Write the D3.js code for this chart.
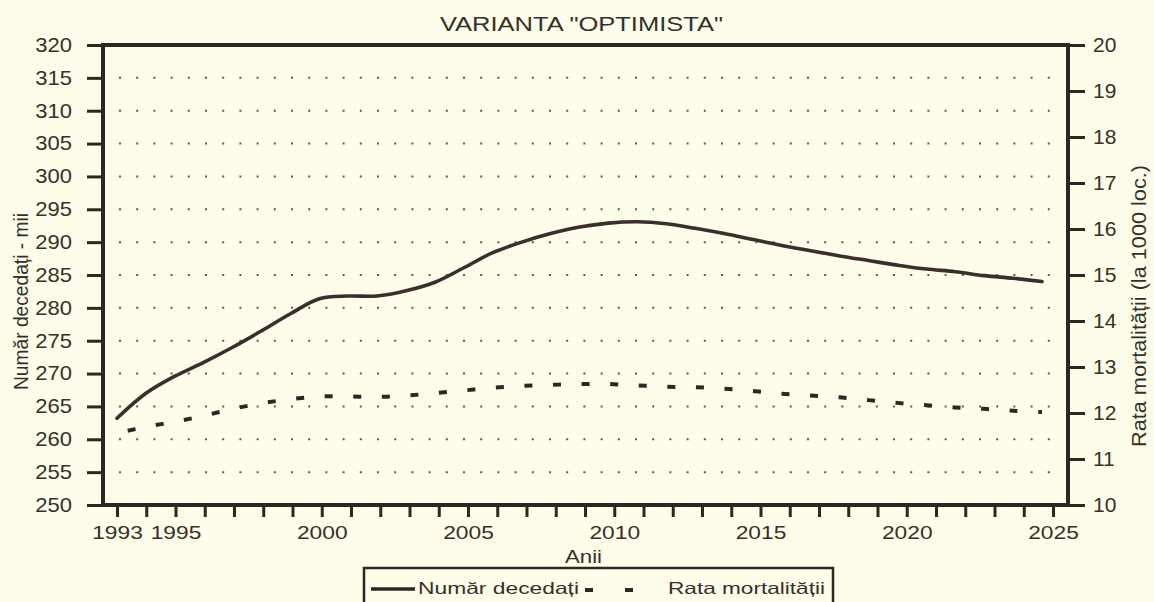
<!DOCTYPE html>
<html>
<head>
<meta charset="utf-8">
<script src="https://d3js.org/d3.v7.min.js"></script>
<style>
  body { margin: 0; background: #fdfde9; }
  text { font-family: "Liberation Sans", Arial, sans-serif; fill: #35302c; }
</style>
</head>
<body>
<div id="graph-area"></div>
<script>

const years = [1993, 1994, 1995, 1996, 1997, 1998, 1999, 2000, 2001, 2002, 2003,
               2004, 2005, 2006, 2007, 2008, 2009, 2010, 2011, 2012, 2013, 2014,
               2015, 2016, 2017, 2018, 2019, 2020, 2021, 2022, 2023, 2024, 2025];

// Numar decedati (mii)
const deaths = [263.2, 267.0, 269.6, 271.7, 274.0, 276.5, 279.1, 281.4, 281.8, 281.8, 282.6,
                283.9, 286.1, 288.4, 290.0, 291.3, 292.3, 292.9, 293.1, 292.8, 292.1, 291.3,
                290.4, 289.5, 288.7, 287.9, 287.2, 286.5, 285.9, 285.5, 284.9, 284.5, 284.0];

// Rata mortalitatii (la 1000 loc.)
const rates = [11.56, 11.70, 11.81, 11.94, 12.09, 12.21, 12.30, 12.36, 12.36, 12.35, 12.38,
               12.43, 12.49, 12.55, 12.59, 12.61, 12.63, 12.63, 12.60, 12.57, 12.56, 12.53,
               12.48, 12.42, 12.38, 12.34, 12.28, 12.22, 12.17, 12.12, 12.09, 12.05, 12.02];

const leftTicks = [250, 255, 260, 265, 270, 275, 280, 285, 290, 295, 300, 305, 310, 315, 320];
const gridTicks = [255, 260, 265, 270, 275, 280, 285, 290, 295, 300, 305, 310, 315];
const rightTicks = [10, 11, 12, 13, 14, 15, 16, 17, 18, 19, 20];
const yearLabels = [1993, 1995, 2000, 2005, 2010, 2015, 2020, 2025];

const w = 1154;
const h = 602;
const plotLeft = 103, plotRight = 1068, plotTop = 45, plotBottom = 505;
const ink = "#2d2622";

const xScale = d3.scaleLinear().domain([1993, 2025]).range([117, 1053]);
// the curves in the original stop a bit before the last tick
const xLine = d3.scaleLinear().domain([1993, 2025]).range([117, 1042]);
const yLeft = d3.scaleLinear().domain([250, 320]).range([plotBottom, plotTop]);
const yRight = d3.scaleLinear().domain([10, 20]).range([plotBottom, plotTop]);

const svg = d3.select("#graph-area").append("svg")
              .attr("width", w)
              .attr("height", h);

// dotted grid
svg.selectAll(".grid")
   .data(gridTicks)
   .enter()
   .append("line")
   .attr("class", "grid")
   .attr("x1", 119)
   .attr("x2", 1056)
   .attr("y1", d => yLeft(d))
   .attr("y2", d => yLeft(d))
   .attr("stroke", "#5e5a52")
   .attr("stroke-width", 2)
   .attr("stroke-dasharray", "2 15.2");

// axes
const gLeft = svg.append("g")
   .attr("transform", "translate(" + plotLeft + ",0)")
   .call(d3.axisLeft(yLeft).tickValues(leftTicks).tickSize(16).tickPadding(15));

const gRight = svg.append("g")
   .attr("transform", "translate(" + plotRight + ",0)")
   .call(d3.axisRight(yRight).tickValues(rightTicks).tickSize(17).tickPadding(8));

const gBottom = svg.append("g")
   .attr("transform", "translate(0," + plotBottom + ")")
   .call(d3.axisBottom(xScale).tickValues(years).tickSize(12)
           .tickFormat(d => yearLabels.includes(d) ? d : ""));

[gLeft, gRight, gBottom].forEach(g => {
  g.select(".domain").remove();
  g.selectAll(".tick line").attr("stroke", ink).attr("stroke-width", 3);
  g.selectAll(".tick text").attr("fill", "#35302c").style("font-family", "Liberation Sans, Arial, sans-serif");
});

gLeft.selectAll(".tick text")
   .style("font-size", "20px")
   .attr("x", -31 / 1.1)
   .attr("transform", "scale(1.1,1)");

gRight.selectAll(".tick text")
   .style("font-size", "20px")
   .attr("x", 25 / 1.05)
   .attr("transform", "scale(1.05,1)");

gBottom.selectAll(".tick text")
   .style("font-size", "17.5px")
   .attr("y", 34)
   .attr("dy", "0")
   .attr("transform", "scale(1.3,1)");

// frame
svg.append("rect")
   .attr("x", plotLeft)
   .attr("y", plotTop)
   .attr("width", plotRight - plotLeft)
   .attr("height", plotBottom - plotTop)
   .attr("fill", "none")
   .attr("stroke", ink)
   .attr("stroke-width", 4);

// lines
const deathLine = d3.line()
   .x((d, i) => xLine(years[i]))
   .y(d => yLeft(d))
   .curve(d3.curveCatmullRom);

const rateLine = d3.line()
   .x((d, i) => xLine(years[i]))
   .y(d => yRight(d))
   .curve(d3.curveCatmullRom);

svg.append("path")
   .datum(rates)
   .attr("fill", "none")
   .attr("stroke", ink)
   .attr("stroke-width", 4)
   .attr("stroke-dasharray", "8 20.6")
   .attr("stroke-dashoffset", 17.6)
   .attr("d", rateLine);

svg.append("path")
   .datum(deaths)
   .attr("fill", "none")
   .attr("stroke", "#3a2f2c")
   .attr("stroke-width", 3.6)
   .attr("stroke-linecap", "round")
   .attr("d", deathLine);

// titles
svg.append("text")
   .attr("x", 440)
   .attr("y", 31)
   .attr("textLength", 283)
   .attr("lengthAdjust", "spacingAndGlyphs")
   .style("font-size", "21px")
   .text("VARIANTA \"OPTIMISTA\"");

svg.append("text")
   .attr("x", 565)
   .attr("y", 563)
   .attr("textLength", 37)
   .attr("lengthAdjust", "spacingAndGlyphs")
   .style("font-size", "17.5px")
   .text("Anii");

// y axis labels
svg.append("text")
   .attr("transform", "translate(28,390) rotate(-90)")
   .attr("textLength", 177)
   .attr("lengthAdjust", "spacingAndGlyphs")
   .style("font-size", "19.5px")
   .text("Număr decedați - mii");

svg.append("text")
   .attr("transform", "translate(1146,447) rotate(-90)")
   .attr("textLength", 282)
   .attr("lengthAdjust", "spacingAndGlyphs")
   .style("font-size", "21px")
   .text("Rata mortalității (la 1000 loc.)");

// legend
const legend = svg.append("g");

legend.append("rect")
   .attr("x", 364)
   .attr("y", 568)
   .attr("width", 469)
   .attr("height", 60)
   .attr("fill", "none")
   .attr("stroke", ink)
   .attr("stroke-width", 2.5);

legend.append("line")
   .attr("x1", 371).attr("x2", 415)
   .attr("y1", 589).attr("y2", 589)
   .attr("stroke", ink)
   .attr("stroke-width", 3.5);

legend.append("line")
   .attr("x1", 585).attr("x2", 634)
   .attr("y1", 590).attr("y2", 590)
   .attr("stroke", ink)
   .attr("stroke-width", 4)
   .attr("stroke-dasharray", "8 32");

legend.append("text")
   .attr("x", 418)
   .attr("y", 594)
   .attr("textLength", 161)
   .attr("lengthAdjust", "spacingAndGlyphs")
   .style("font-size", "16.5px")
   .text("Număr decedați");

legend.append("text")
   .attr("x", 668)
   .attr("y", 594)
   .attr("textLength", 157)
   .attr("lengthAdjust", "spacingAndGlyphs")
   .style("font-size", "16.5px")
   .text("Rata mortalității");

</script>
</body>
</html>
